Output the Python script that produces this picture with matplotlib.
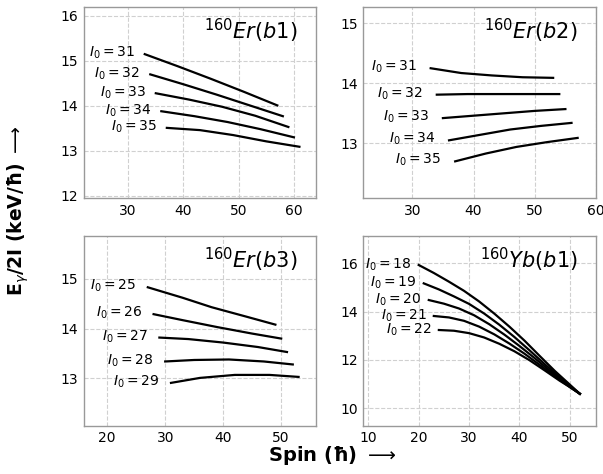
import matplotlib.pyplot as plt

# 160Er(b1)
er1_i0 = [31, 32, 33, 34, 35]
er1_spin = [[33, 39, 45, 51, 57],
            [34, 40, 46, 52, 58],
            [35, 41, 47, 53, 59],
            [36, 42, 48, 54, 60],
            [37, 43, 49, 55, 61]]
er1_val = [[15.15, 14.88, 14.60, 14.31, 14.01],
           [14.70, 14.48, 14.25, 14.01, 13.77],
           [14.28, 14.14, 13.98, 13.78, 13.53],
           [13.88, 13.77, 13.64, 13.48, 13.30],
           [13.51, 13.46, 13.35, 13.21, 13.09]]

# 160Er(b2)
er2_i0 = [31, 32, 33, 34, 35]
er2_spin = [[33, 38, 43, 48, 53],
            [34, 39, 44, 49, 54],
            [35, 40, 45, 50, 55],
            [36, 41, 46, 51, 56],
            [37, 42, 47, 52, 57]]
er2_val = [[14.25, 14.17, 14.13, 14.10, 14.09],
           [13.81, 13.82, 13.82, 13.82, 13.82],
           [13.42, 13.46, 13.50, 13.54, 13.57],
           [13.05, 13.14, 13.23, 13.29, 13.34],
           [12.70, 12.83, 12.94, 13.02, 13.09]]

# 160Er(b3)
er3_i0 = [25, 26, 27, 28, 29]
er3_spin = [[27, 33, 38, 44, 49],
            [28, 33, 39, 45, 50],
            [29, 34, 40, 46, 51],
            [30, 35, 41, 47, 52],
            [31, 36, 42, 48, 53]]
er3_val = [[14.83, 14.62, 14.43, 14.24, 14.08],
           [14.29, 14.17, 14.03, 13.90, 13.80],
           [13.82, 13.79, 13.72, 13.63, 13.53],
           [13.34, 13.37, 13.38, 13.34, 13.28],
           [12.91, 13.01, 13.07, 13.07, 13.03]]

# 160Yb(b1)
yb_i0 = [18, 19, 20, 21, 22]
yb_spin = [[20, 23, 26, 29, 32, 35, 38, 41, 44, 47, 50, 52],
           [21, 24, 27, 30, 33, 36, 39, 42, 45, 48, 50, 52],
           [22, 25, 28, 31, 34, 37, 40, 43, 46, 49, 52],
           [23, 26, 29, 32, 35, 38, 41, 44, 47, 50, 52],
           [24, 27, 30, 33, 36, 39, 42, 45, 48, 50, 52]]
yb_val = [[15.93, 15.60, 15.24, 14.86, 14.42, 13.92, 13.38, 12.80, 12.17, 11.55, 10.98, 10.60],
          [15.17, 14.92, 14.63, 14.32, 13.92, 13.46, 12.95, 12.40, 11.83, 11.28, 10.93, 10.60],
          [14.48, 14.33, 14.13, 13.85, 13.48, 13.05, 12.58, 12.08, 11.56, 11.05, 10.60],
          [13.82, 13.76, 13.62, 13.38, 13.06, 12.68, 12.26, 11.80, 11.33, 10.88, 10.60],
          [13.24, 13.21, 13.11, 12.93, 12.67, 12.36, 11.99, 11.57, 11.14, 10.88, 10.60]]

panels = [
    (r"$^{160}Er(b1)$", er1_i0, er1_spin, er1_val, [0.1393, 0.5823, 0.3847, 0.4030], (22, 64), (11.95, 16.2), [30, 40, 50, 60], [12, 13, 14, 15, 16]),
    (r"$^{160}Er(b2)$", er2_i0, er2_spin, er2_val, [0.6025, 0.5823, 0.3859, 0.4030], (22, 60), (12.09, 15.27), [30, 40, 50, 60], [13, 14, 15]),
    (r"$^{160}Er(b3)$", er3_i0, er3_spin, er3_val, [0.1393, 0.1019, 0.3847, 0.4002], (16, 56), (12.05, 15.86), [20, 30, 40, 50], [13, 14, 15]),
    (r"$^{160}Yb(b1)$", yb_i0, yb_spin, yb_val, [0.6025, 0.1019, 0.3859, 0.4002], (9, 55.2), (9.28, 17.13), [10, 20, 30, 40, 50], [10, 12, 14, 16]),
]

fig = plt.figure(figsize=(6.03, 4.74), dpi=100)

for title, i0s, spins, vals, pos, xl, yl, xt, yt in panels:
    ax = fig.add_axes(pos)
    for i0, s, v in zip(i0s, spins, vals):
        ax.plot(s, v, color='black', lw=1.6)
        ax.text(s[0] - 6, v[0] + 0.02, r"$I_0 = %d$" % i0, ha='center', va='center', fontsize=10)
    ax.text(0.92, 0.95, title, transform=ax.transAxes, ha='right', va='top', fontsize=15)
    ax.set_xlim(*xl)
    ax.set_ylim(*yl)
    ax.set_xticks(xt)
    ax.set_yticks(yt)
    ax.grid(True, ls='--', color='#d0d0d0', lw=0.8)
    ax.set_axisbelow(True)
    ax.tick_params(length=0, pad=4, labelsize=10)
    for sp in ax.spines.values():
        sp.set_color('#999999')
        sp.set_linewidth(1.0)

fig.text(0.55, 0.015, "Spin (ħ) $\\longrightarrow$", ha='center', va='bottom', fontsize=14, fontweight='bold')
fig.text(0.03, 0.555, "E$_\\gamma$/2I (keV/ħ) $\\longrightarrow$", ha='center', va='center', rotation=90, fontsize=13.5, fontweight='bold')

fig.savefig('out.png', dpi=100)
